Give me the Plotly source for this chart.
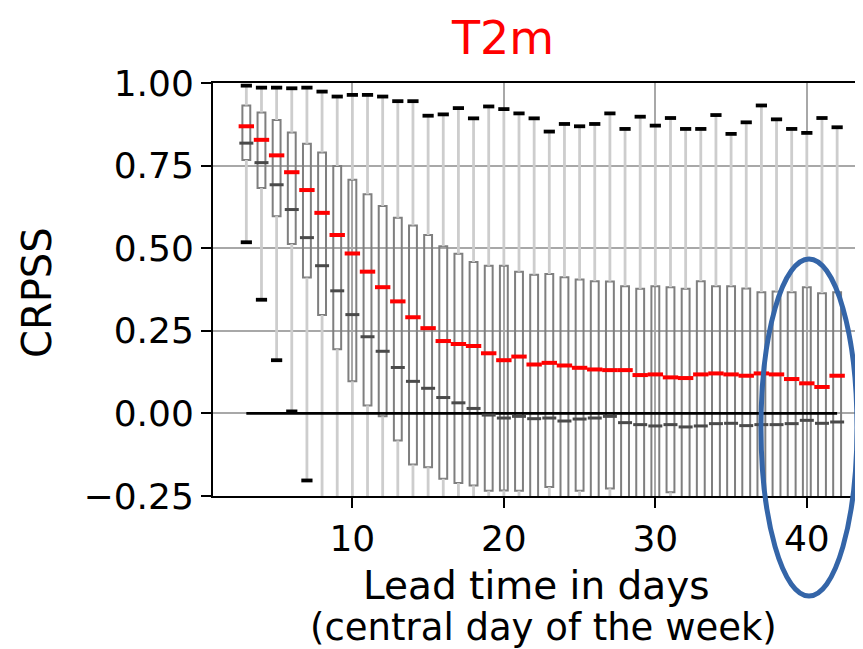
import numpy as np
import plotly.graph_objects as go

days = list(range(3, 43))

upper_cap = [0.992, 0.986, 0.986, 0.984, 0.986, 0.974, 0.959, 0.964, 0.964, 0.959,
             0.945, 0.945, 0.901, 0.905, 0.924, 0.893, 0.929, 0.921, 0.908, 0.893,
             0.853, 0.876, 0.869, 0.876, 0.908, 0.861, 0.898, 0.871, 0.894, 0.861,
             0.861, 0.903, 0.846, 0.881, 0.932, 0.890, 0.861, 0.849, 0.894, 0.866]

box_top = [0.932, 0.911, 0.888, 0.850, 0.816, 0.790, 0.749, 0.707, 0.663, 0.628,
           0.592, 0.569, 0.540, 0.506, 0.483, 0.458, 0.447, 0.447, 0.429, 0.420,
           0.422, 0.412, 0.405, 0.400, 0.399, 0.385, 0.377, 0.385, 0.382, 0.377,
           0.400, 0.385, 0.385, 0.378, 0.367, 0.369, 0.367, 0.382, 0.364, 0.367]

mean_vals = [0.869, 0.828, 0.781, 0.730, 0.676, 0.607, 0.540, 0.484, 0.429, 0.382,
             0.339, 0.291, 0.258, 0.219, 0.210, 0.204, 0.182, 0.161, 0.172, 0.148,
             0.153, 0.145, 0.138, 0.133, 0.131, 0.131, 0.116, 0.118, 0.109, 0.107,
             0.118, 0.121, 0.118, 0.114, 0.121, 0.118, 0.104, 0.091, 0.080, 0.114]

median_vals = [0.818, 0.759, 0.692, 0.617, 0.532, 0.447, 0.371, 0.299, 0.232, 0.188,
               0.139, 0.097, 0.076, 0.048, 0.032, 0.015, -0.005, -0.014, -0.009, -0.016,
               -0.014, -0.023, -0.017, -0.014, -0.009, -0.028, -0.034, -0.038, -0.034, -0.041,
               -0.038, -0.031, -0.030, -0.037, -0.034, -0.034, -0.031, -0.021, -0.030, -0.026]

box_bottom = [0.767, 0.682, 0.597, 0.513, 0.411, 0.298, 0.194, 0.097, 0.024, -0.009,
              -0.082, -0.155, -0.163, -0.198, -0.211, -0.218, -0.234, -0.233, -0.234, -0.270,
              -0.223, -0.270, -0.234, -0.270, -0.227, -0.270, -0.270, -0.270, -0.239, -0.270,
              -0.270, -0.270, -0.270, -0.270, -0.270, -0.270, -0.270, -0.270, -0.270, -0.270]

lower_cap = [0.518, 0.344, 0.161, 0.006, -0.203] + [-0.6] * 35

y_ticks = [-0.25, 0.0, 0.25, 0.5, 0.75, 1.0]
x_ticks = [10, 20, 30, 40]

title_text = "T2m"
y_title = "CRPSS"
x_title_1 = "Lead time in days"
x_title_2 = "(central day of the week)"

FONT = "DejaVu Sans"

# whisker segments (matplotlib style: from box edge to cap)
wx, wy = [], []
for d, q1, q3, lo, hi in zip(days, box_bottom, box_top, lower_cap, upper_cap):
    wx += [d, d, None, d, d, None]
    wy += [q3, hi, None, q1, lo, None]

fig = go.Figure()

fig.add_trace(go.Scatter(x=wx, y=wy, mode="lines",
                         line=dict(color="#cdcdcd", width=2.8),
                         hoverinfo="skip", showlegend=False))

fig.add_trace(go.Bar(x=days, y=np.array(box_top) - np.array(box_bottom), base=box_bottom,
                     width=0.52,
                     marker=dict(color="rgba(0,0,0,0)", line=dict(color="#7f7f7f", width=2)),
                     showlegend=False))

fig.add_trace(go.Scatter(x=[days[0], days[-1]], y=[0, 0], mode="lines",
                         line=dict(color="black", width=2.6), showlegend=False))

fig.add_trace(go.Scatter(x=days, y=median_vals, mode="markers",
                         marker=dict(symbol="line-ew", size=10,
                                     line=dict(color="#4a4a4a", width=3)),
                         showlegend=False))

fig.add_trace(go.Scatter(x=days, y=mean_vals, mode="markers",
                         marker=dict(symbol="line-ew", size=11,
                                     line=dict(color="#ff0000", width=4)),
                         showlegend=False))

fig.add_trace(go.Scatter(x=days + days, y=upper_cap + lower_cap, mode="markers",
                         marker=dict(symbol="line-ew", size=8,
                                     line=dict(color="black", width=3.8)),
                         showlegend=False))

L, R, T, B = 205, 1, 75, 161
W, H = 863, 649
pw, ph = W - L - R, H - T - B

def px_x(px):
    return (px - L) / pw

def px_y(py):
    return (H - B - py) / ph

fig.add_shape(type="circle", xref="paper", yref="paper",
              x0=px_x(753), x1=px_x(849), y0=px_y(588), y1=px_y(251),
              line=dict(color="#3465a8", width=5))

fig.add_annotation(text=title_text, xref="paper", yref="paper",
                   x=px_x(494), y=px_y(30), xanchor="center", yanchor="middle",
                   showarrow=False, font=dict(family=FONT, size=46, color="red"))
fig.add_annotation(text=y_title, xref="paper", yref="paper", textangle=-90,
                   x=px_x(29), y=px_y(285), xanchor="center", yanchor="middle",
                   showarrow=False, font=dict(family=FONT, size=40, color="black"))
fig.add_annotation(text=x_title_1, xref="paper", yref="paper",
                   x=px_x(528), y=px_y(577), xanchor="center", yanchor="middle",
                   showarrow=False, font=dict(family=FONT, size=39, color="black"))
fig.add_annotation(text=x_title_2, xref="paper", yref="paper",
                   x=px_x(535), y=px_y(619), xanchor="center", yanchor="middle",
                   showarrow=False, font=dict(family=FONT, size=37, color="black"))

fig.update_layout(
    width=W, height=H,
    margin=dict(l=L, r=R, t=T, b=B),
    plot_bgcolor="white", paper_bgcolor="white",
    font=dict(family=FONT, color="black"),
    barmode="overlay",
    xaxis=dict(range=[0.8, 44.17], tickvals=x_ticks, ticktext=[str(v) for v in x_ticks],
               showgrid=True, gridcolor="#a8a8a8", gridwidth=2,
               showline=True, linecolor="black", linewidth=2, mirror=True,
               ticks="outside", ticklen=10, tickwidth=2, tickcolor="black",
               tickfont=dict(size=36), zeroline=False, automargin=False),
    yaxis=dict(range=[-0.25, 1.0], tickvals=y_ticks, tickformat=".2f",
               showgrid=True, gridcolor="#a8a8a8", gridwidth=2,
               showline=True, linecolor="black", linewidth=2, mirror=True,
               ticks="outside", ticklen=10, tickwidth=2, tickcolor="black",
               tickfont=dict(size=36), zeroline=False, automargin=False),
)

fig.write_html("out.html")
